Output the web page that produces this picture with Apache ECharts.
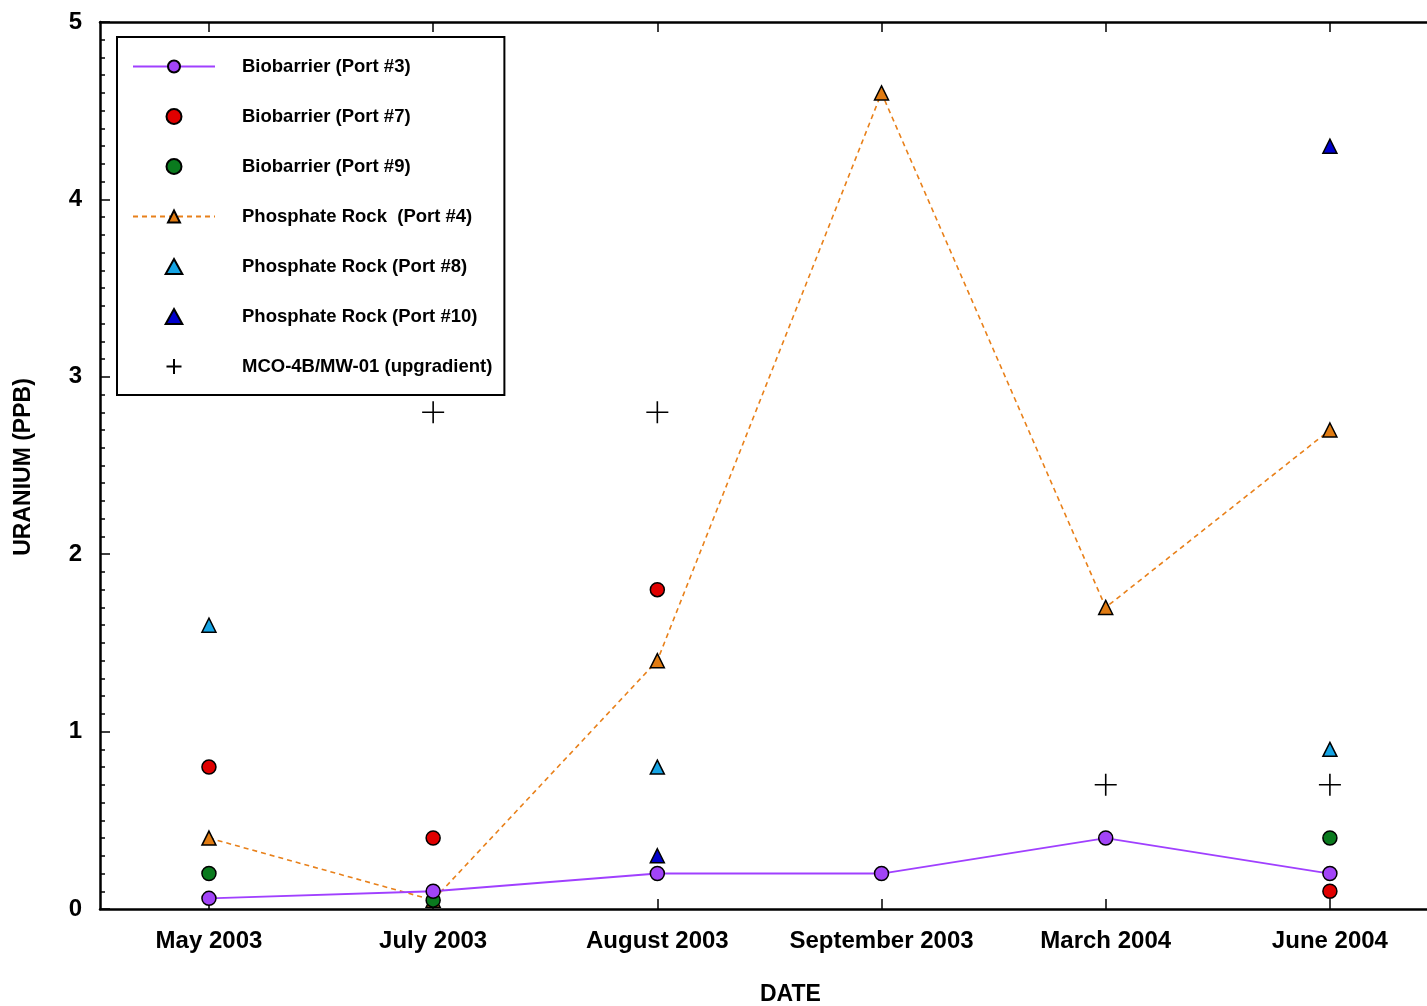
<!DOCTYPE html>
<html>
<head>
<meta charset="utf-8">
<script src="https://cdn.jsdelivr.net/npm/echarts@6/dist/echarts.min.js"></script>
<style>
html,body{margin:0;padding:0;background:#fff;}
#chart{width:1427px;height:1006px;}
</style>
</head>
<body>
<div id="chart"></div>
<script>
const categories = ['May 2003', 'July 2003', 'August 2003', 'September 2003', 'March 2004', 'June 2004'];
const bioPort3 = [0.06, 0.10, 0.20, 0.20, 0.40, 0.20];
const bioPort7 = [0.80, 0.40, 1.80, null, null, 0.10];
const bioPort9 = [0.20, 0.05, null, null, null, 0.40];
const phosPort4 = [0.40, 0.05, 1.40, 4.60, 1.70, 2.70];
const phosPort8 = [1.60, null, 0.80, null, null, 0.90];
const phosPort10 = [null, null, 0.30, null, null, 4.30];
const mcoUpgradient = [null, 2.80, 2.80, null, 0.70, 0.70];
const yTicks = [0, 1, 2, 3, 4, 5];

const FONT = 'Arial, "Liberation Sans", sans-serif';
const catIdx = categories.map((c, i) => i);
function pts(arr) {
  const out = [];
  arr.forEach((v, i) => { if (v !== null) out.push([i, v]); });
  return out;
}
const edge = { borderColor: '#000', borderWidth: 1.5, opacity: 1 };
const plusPath = 'path://M0,11 L22,11 M11,0 L11,22';
const triPath = 'path://M5,0 L10,9 L0,9 Z';

const chart = echarts.init(document.getElementById('chart'));
chart.setOption({
  animation: false,
  backgroundColor: '#fff',
  grid: { left: 100, top: 22, width: 1342, height: 887, containLabel: false, outerBoundsMode: 'none' },
  xAxis: [{
    type: 'value', min: -0.486, max: 5.5, position: 'bottom',
    axisLine: { show: true, onZero: false, lineStyle: { color: '#000', width: 2.5 } },
    axisTick: { show: true, inside: true, length: 10, customValues: catIdx, lineStyle: { color: '#000', width: 1.5 } },
    axisLabel: { show: true, customValues: catIdx, formatter: v => categories[Math.round(v)],
      color: '#000', fontFamily: FONT, fontWeight: 'bold', fontSize: 24, margin: 20 },
    splitLine: { show: false }
  }, {
    type: 'value', min: -0.486, max: 5.5, position: 'top',
    axisLine: { show: true, onZero: false, lineStyle: { color: '#000', width: 2.5 } },
    axisTick: { show: true, inside: true, length: 10, customValues: catIdx, lineStyle: { color: '#000', width: 1.5 } },
    axisLabel: { show: false },
    splitLine: { show: false }
  }],
  yAxis: {
    type: 'value', min: 0, max: 5, interval: 1,
    axisLine: { show: true, onZero: false, lineStyle: { color: '#000', width: 2.5 } },
    axisTick: { show: true, inside: true, length: 10, lineStyle: { color: '#000', width: 1.5 } },
    minorTick: { show: true, splitNumber: 10, length: 5, lineStyle: { color: '#000', width: 1.5 } },
    axisLabel: { color: '#000', fontFamily: FONT, fontWeight: 'bold', fontSize: 24, margin: 18,
      formatter: v => String(yTicks[yTicks.indexOf(v)]) },
    splitLine: { show: false }
  },
  legend: {
    orient: 'vertical', left: 117, top: 37,
    padding: [20, 12, 19, 15],
    itemWidth: 82, itemHeight: 15, itemGap: 31,
    symbolKeepAspect: true,
    borderColor: '#000', borderWidth: 2, backgroundColor: '#fff',
    textStyle: { color: '#000', fontFamily: FONT, fontWeight: 'bold', fontSize: 18.5, padding: [0, 0, 0, 22] },
    data: [
      { name: 'Biobarrier (Port #3)' },
      { name: 'Biobarrier (Port #7)' },
      { name: 'Biobarrier (Port #9)' },
      { name: 'Phosphate Rock  (Port #4)' },
      { name: 'Phosphate Rock (Port #8)', icon: triPath },
      { name: 'Phosphate Rock (Port #10)', icon: triPath },
      { name: 'MCO-4B/MW-01 (upgradient)' }
    ]
  },
  graphic: [
    { type: 'text', left: 760, top: 983, style: { text: 'DATE', fill: '#000', font: 'bold 23px ' + FONT } },
    { type: 'text', x: 24, y: 467, rotation: Math.PI / 2,
      style: { text: 'URANIUM (PPB)', fill: '#000', font: 'bold 23px ' + FONT, align: 'center', verticalAlign: 'middle' } }
  ],
  series: [
    { name: 'Phosphate Rock  (Port #4)', type: 'line', data: pts(phosPort4), symbol: 'triangle', symbolSize: 14,
      lineStyle: { color: '#E8801A', width: 1.6, type: [5, 4] },
      itemStyle: Object.assign({ color: '#E07B12' }, edge), z: 2 },
    { name: 'Biobarrier (Port #3)', type: 'line', data: pts(bioPort3), symbol: 'circle', symbolSize: 14,
      lineStyle: { color: '#A040FF', width: 1.8 },
      itemStyle: Object.assign({ color: '#A244F7' }, edge), z: 3 },
    { name: 'Biobarrier (Port #7)', type: 'scatter', data: pts(bioPort7), symbol: 'circle', symbolSize: 14,
      itemStyle: Object.assign({ color: '#E00000' }, edge), z: 4 },
    { name: 'Biobarrier (Port #9)', type: 'scatter', data: pts(bioPort9), symbol: 'circle', symbolSize: 14,
      itemStyle: Object.assign({ color: '#0A7A1E' }, edge), z: 2 },
    { name: 'Phosphate Rock (Port #8)', type: 'scatter', data: pts(phosPort8), symbol: 'triangle', symbolSize: 14,
      itemStyle: Object.assign({ color: '#16A4E4' }, edge), z: 4 },
    { name: 'Phosphate Rock (Port #10)', type: 'scatter', data: pts(phosPort10), symbol: 'triangle', symbolSize: 14,
      itemStyle: Object.assign({ color: '#0000CC' }, edge), z: 4 },
    { name: 'MCO-4B/MW-01 (upgradient)', type: 'scatter', data: pts(mcoUpgradient), symbol: plusPath, symbolSize: 22,
      symbolKeepAspect: true,
      itemStyle: { color: 'rgba(0,0,0,0)', borderColor: '#000', borderWidth: 1.6, opacity: 1 }, z: 4 }
  ]
});
</script>
</body>
</html>
